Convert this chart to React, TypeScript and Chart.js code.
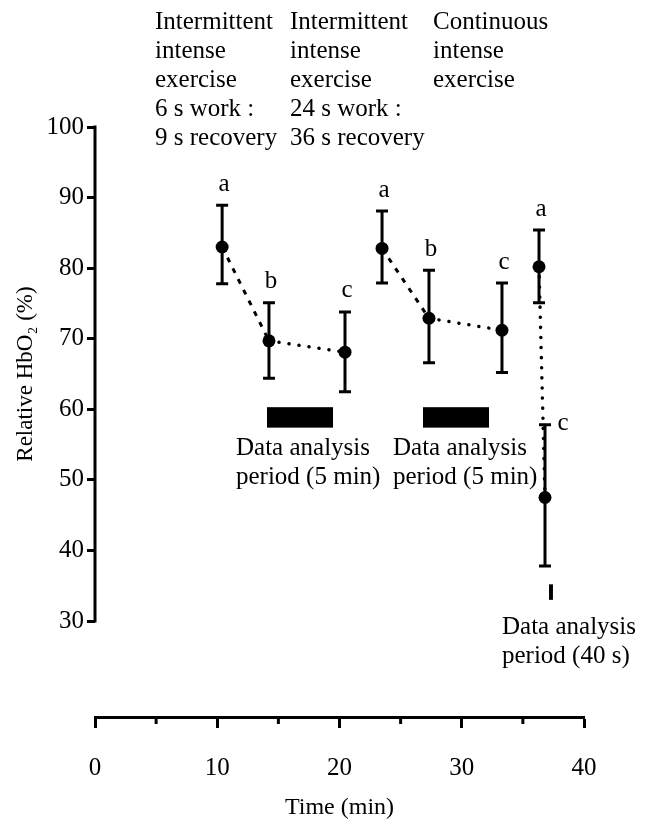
import React, { useEffect, useRef } from 'react';
import { Chart, registerables } from 'chart.js';

Chart.register(...registerables);

// ---- data ----
const exerciseHeaders: string[][] = [
  ['Intermittent', 'intense', 'exercise', '6 s work :', '9 s recovery'],
  ['Intermittent', 'intense', 'exercise', '24 s work :', '36 s recovery'],
  ['Continuous', 'intense', 'exercise'],
];
const pointTimes = [10.4, 14.23, 20.45, 23.48, 27.32, 33.29, 36.32, 36.81];
const pointMeans = [83.0, 69.7, 68.1, 82.8, 72.9, 71.2, 80.2, 47.5];
const errLow = [77.8, 64.4, 62.5, 77.9, 66.6, 65.2, 75.1, 37.8];
const errHigh = [88.9, 75.1, 73.8, 88.1, 79.7, 77.9, 85.4, 57.8];
const pointLetters = ['a', 'b', 'c', 'a', 'b', 'c', 'a', 'c'];
// connectors: from index, to index, style
const connectorFrom = [0, 1, 3, 4, 6];
const connectorTo = [1, 2, 4, 5, 7];
const connectorStyle = ['dash', 'dot', 'dash', 'dot', 'dot'];
// data analysis periods
const periodStart = [14.07, 26.83, 37.14];
const periodEnd = [19.47, 32.23, 37.46];
const periodLow = [57.4, 57.4, 33.0];
const periodHigh = [60.3, 60.3, 35.2];
const periodLabels: string[][] = [
  ['Data analysis', 'period (5 min)'],
  ['Data analysis', 'period (5 min)'],
  ['Data analysis', 'period (40 s)'],
];
const yTickValues = [30, 40, 50, 60, 70, 80, 90, 100];
const xMinorTicks = [5, 15, 25, 35];
const xTitle = 'Time (min)';
const yTitle = 'Relative HbO\u2082 (%)';

const FONT = '"Liberation Serif", "Times New Roman", serif';

export default function App() {
  const ref = useRef<HTMLCanvasElement | null>(null);

  useEffect(() => {
    const canvas = ref.current;
    if (!canvas) return;

    const decorPlugin = {
      id: 'decor',
      beforeDatasetsDraw(chart: any) {
        const ctx = chart.ctx;
        const xs = chart.scales.x;
        const ys = chart.scales.y;
        ctx.save();
        ctx.strokeStyle = '#000';
        ctx.fillStyle = '#000';
        // y axis line from 30 to 100
        ctx.lineWidth = 3;
        ctx.beginPath();
        const axX = chart.chartArea.left;
        ctx.moveTo(axX, ys.getPixelForValue(yTickValues[yTickValues.length - 1]) - 1.5);
        ctx.lineTo(axX, ys.getPixelForValue(yTickValues[0]) + 1.5);
        ctx.stroke();
        // x minor ticks
        for (const v of xMinorTicks) {
          const px = xs.getPixelForValue(v);
          ctx.beginPath();
          ctx.moveTo(px, chart.chartArea.bottom);
          ctx.lineTo(px, chart.chartArea.bottom + 7);
          ctx.stroke();
        }
        // error bars
        for (let i = 0; i < pointTimes.length; i++) {
          const px = xs.getPixelForValue(pointTimes[i]);
          const lo = ys.getPixelForValue(errLow[i]);
          const hi = ys.getPixelForValue(errHigh[i]);
          ctx.beginPath();
          ctx.moveTo(px, lo);
          ctx.lineTo(px, hi);
          ctx.moveTo(px - 6, lo);
          ctx.lineTo(px + 6, lo);
          ctx.moveTo(px - 6, hi);
          ctx.lineTo(px + 6, hi);
          ctx.stroke();
        }
        // analysis periods
        for (let i = 0; i < periodStart.length; i++) {
          const x0 = xs.getPixelForValue(periodStart[i]);
          const x1 = xs.getPixelForValue(periodEnd[i]);
          const y0 = ys.getPixelForValue(periodHigh[i]);
          const y1 = ys.getPixelForValue(periodLow[i]);
          ctx.fillRect(x0, y0, x1 - x0, y1 - y0);
        }
        ctx.restore();
      },
      afterDatasetsDraw(chart: any) {
        const ctx = chart.ctx;
        const xs = chart.scales.x;
        const ys = chart.scales.y;
        ctx.save();
        ctx.fillStyle = '#000';
        // letters
        ctx.font = `25px ${FONT}`;
        ctx.textAlign = 'center';
        ctx.textBaseline = 'middle';
        for (let i = 0; i < pointTimes.length; i++) {
          const px = xs.getPixelForValue(pointTimes[i]);
          const hi = ys.getPixelForValue(errHigh[i]);
          if (i === pointTimes.length - 1) {
            ctx.fillText(pointLetters[i], px + 18, hi - 1);
          } else {
            ctx.fillText(pointLetters[i], px + 2, hi - 21);
          }
        }
        // headers
        ctx.textAlign = 'left';
        const headerX = [155, 290, 433];
        exerciseHeaders.forEach((lines, k) => {
          lines.forEach((ln, j) => ctx.fillText(ln, headerX[k], 22 + j * 29));
        });
        // period labels
        const labelX = [236, 393, 502];
        const labelY = [448, 448, 627];
        periodLabels.forEach((lines, k) => {
          lines.forEach((ln, j) => ctx.fillText(ln, labelX[k], labelY[k] + j * 29));
        });
        // y title
        ctx.save();
        ctx.translate(26, (ys.getPixelForValue(30) + ys.getPixelForValue(100)) / 2);
        ctx.rotate(-Math.PI / 2);
        ctx.textAlign = 'center';
        ctx.font = `23px ${FONT}`;
        ctx.fillText(yTitle, 0, 0);
        ctx.restore();
        ctx.restore();
      },
    };

    const lineDatasets = connectorFrom.map((f, k) => ({
      type: 'line' as const,
      data: [
        { x: pointTimes[f], y: pointMeans[f] },
        { x: pointTimes[connectorTo[k]], y: pointMeans[connectorTo[k]] },
      ],
      borderColor: '#000',
      borderWidth: connectorStyle[k] === 'dot' ? 3.5 : 3,
      borderDash: connectorStyle[k] === 'dot' ? [0.1, 10] : [5, 7],
      borderCapStyle: connectorStyle[k] === 'dot' ? ('round' as const) : ('butt' as const),
      pointRadius: 0,
      fill: false,
      order: 2,
    }));

    const chart = new Chart(canvas, {
      type: 'scatter',
      data: {
        datasets: [
          ...lineDatasets,
          {
            type: 'scatter' as const,
            data: pointTimes.map((t, i) => ({ x: t, y: pointMeans[i] })),
            pointRadius: 6.5,
            pointBackgroundColor: '#000',
            pointBorderColor: '#000',
            pointBorderWidth: 0,
            order: 1,
          },
        ] as any,
      },
      options: {
        animation: false,
        responsive: false,
        maintainAspectRatio: false,
        layout: { padding: { top: 127, right: 71, left: 0, bottom: 0 } },
        plugins: { legend: { display: false }, tooltip: { enabled: false } },
        scales: {
          x: {
            type: 'linear',
            min: 0,
            max: 40,
            afterFit(s: any) {
              s.height = 105;
            },
            ticks: {
              stepSize: 10,
              color: '#000',
              font: { family: FONT, size: 25 },
              padding: 25,
              maxRotation: 0,
            },
            grid: {
              display: true,
              drawOnChartArea: false,
              drawTicks: true,
              tickLength: 11,
              tickWidth: 3,
              color: '#000',
            },
            border: { display: true, color: '#000', width: 3 },
            title: {
              display: true,
              text: xTitle,
              color: '#000',
              font: { family: FONT, size: 24 },
              padding: { top: 0, bottom: 0 },
            },
          },
          y: {
            type: 'linear',
            min: 16.4,
            max: 100,
            afterFit(s: any) {
              s.width = 95;
            },
            afterBuildTicks(s: any) {
              s.ticks = yTickValues.map((v) => ({ value: v }));
            },
            ticks: {
              color: '#000',
              font: { family: FONT, size: 25 },
              padding: 3,
            },
            grid: {
              display: true,
              drawOnChartArea: false,
              drawTicks: true,
              tickLength: 8,
              tickWidth: 3,
              color: '#000',
            },
            border: { display: false },
          },
        },
      },
      plugins: [decorPlugin],
    } as any);

    return () => chart.destroy();
  }, []);

  return (
    <canvas
      ref={ref}
      width={655}
      height={822}
      style={{ position: 'absolute', left: 0, top: 0, width: 655, height: 822, background: '#fff' }}
    />
  );
}
